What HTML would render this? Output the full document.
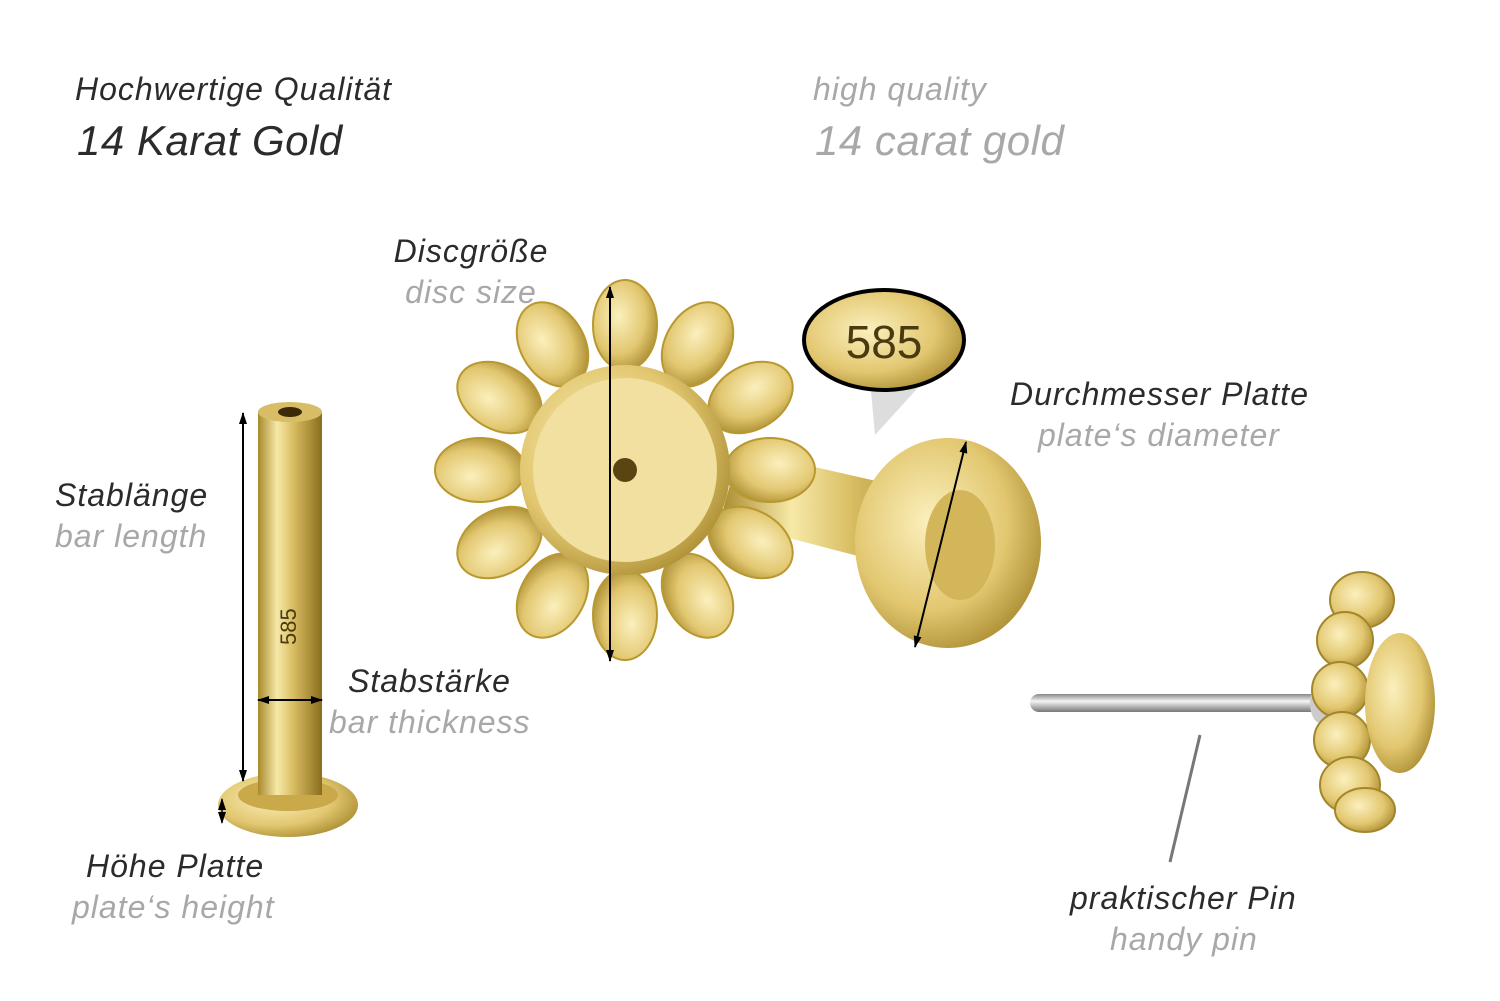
<!DOCTYPE html>
<html><head><meta charset="utf-8"><style>
html,body{margin:0;padding:0;background:#fff;}
svg{display:block}
text{font-family:"Liberation Sans",sans-serif;font-style:italic;}
.d{fill:#2b2b2b}.g{fill:#a8a8a8}
.l{letter-spacing:1px}
</style></head><body>
<svg width="1500" height="1001" viewBox="0 0 1500 1001" xmlns="http://www.w3.org/2000/svg">
<defs>
<linearGradient id="gb" x1="0" x2="1" y1="0" y2="0">
<stop offset="0" stop-color="#a88a2c"/><stop offset="0.3" stop-color="#f7e9a8"/><stop offset="0.55" stop-color="#d9bd62"/><stop offset="1" stop-color="#8a6d1c"/></linearGradient>
<radialGradient id="gr" cx="0.4" cy="0.4" r="0.7">
<stop offset="0" stop-color="#fbf0bd"/><stop offset="0.6" stop-color="#e2c770"/><stop offset="1" stop-color="#a3852a"/></radialGradient>
<linearGradient id="sv" x1="0" x2="0" y1="0" y2="1">
<stop offset="0" stop-color="#888"/><stop offset="0.4" stop-color="#f4f4f4"/><stop offset="1" stop-color="#777"/></linearGradient>
<marker id="ah" markerUnits="userSpaceOnUse" markerWidth="12" markerHeight="10" refX="11" refY="5" orient="auto-start-reverse"><path d="M0,1 L12,5 L0,9 z" fill="#000"/></marker>
</defs>

<text x="75" y="100" font-size="32" class="d l">Hochwertige Qualität</text>
<text x="77" y="155" font-size="42" class="d" style="letter-spacing:0.5px">14 Karat Gold</text>
<text x="813" y="100" font-size="32" class="g l">high quality</text>
<text x="815" y="155" font-size="42" class="g" style="letter-spacing:0.5px">14 carat gold</text>

<!-- bar -->
<ellipse cx="288" cy="805" rx="70" ry="32" fill="url(#gr)"/>
<ellipse cx="288" cy="795" rx="50" ry="16" fill="#c9a94a"/>
<rect x="258" y="412" width="64" height="383" fill="url(#gb)"/>
<ellipse cx="290" cy="412" rx="32" ry="10" fill="#d8bd66"/>
<ellipse cx="290" cy="412" rx="12" ry="5" fill="#3a2a08"/>
<text x="0" y="0" font-size="22" fill="#4a3a10" transform="translate(296,645) rotate(-90)" style="font-style:normal">585</text>

<!-- back plate + bar -->
<polygon points="740,450 960,500 950,580 720,520" fill="url(#gb)"/>
<ellipse cx="948" cy="543" rx="93" ry="105" fill="url(#gr)"/>
<ellipse cx="960" cy="545" rx="35" ry="55" fill="#d4b65a"/>

<!-- flower -->
<g transform="translate(625,470)">
<g fill="url(#gr)" stroke="#b8982f" stroke-width="2">
<ellipse cx="0" cy="-145" rx="32" ry="45"/>
<ellipse cx="0" cy="-145" rx="32" ry="45" transform="rotate(30)"/>
<ellipse cx="0" cy="-145" rx="32" ry="45" transform="rotate(60)"/>
<ellipse cx="0" cy="-145" rx="32" ry="45" transform="rotate(90)"/>
<ellipse cx="0" cy="-145" rx="32" ry="45" transform="rotate(120)"/>
<ellipse cx="0" cy="-145" rx="32" ry="45" transform="rotate(150)"/>
<ellipse cx="0" cy="-145" rx="32" ry="45" transform="rotate(180)"/>
<ellipse cx="0" cy="-145" rx="32" ry="45" transform="rotate(210)"/>
<ellipse cx="0" cy="-145" rx="32" ry="45" transform="rotate(240)"/>
<ellipse cx="0" cy="-145" rx="32" ry="45" transform="rotate(270)"/>
<ellipse cx="0" cy="-145" rx="32" ry="45" transform="rotate(300)"/>
<ellipse cx="0" cy="-145" rx="32" ry="45" transform="rotate(330)"/>
</g>
<circle cx="0" cy="0" r="105" fill="url(#gr)"/>
<circle cx="0" cy="0" r="92" fill="#f1e0a0"/>
<circle cx="0" cy="0" r="12" fill="#5a4512"/>
</g>

<!-- 585 oval -->
<polygon points="875,435 870,380 925,380" fill="#ddd"/>
<ellipse cx="884" cy="340" rx="80" ry="50" fill="url(#gr)" stroke="#000" stroke-width="4"/>
<text x="884" y="358" font-size="46" text-anchor="middle" fill="#4a3a10" style="font-style:normal">585</text>

<!-- pin -->
<rect x="1030" y="694" width="290" height="18" rx="9" fill="url(#sv)"/>
<ellipse cx="1320" cy="703" rx="10" ry="20" fill="#ccc"/>
<g fill="url(#gr)" stroke="#a3852a" stroke-width="2">
<ellipse cx="1362" cy="600" rx="32" ry="28"/>
<ellipse cx="1345" cy="640" rx="28" ry="28"/>
<ellipse cx="1340" cy="690" rx="28" ry="28"/>
<ellipse cx="1342" cy="740" rx="28" ry="28"/>
<ellipse cx="1350" cy="785" rx="30" ry="28"/>
<ellipse cx="1365" cy="810" rx="30" ry="22"/>
</g>
<ellipse cx="1400" cy="703" rx="35" ry="70" fill="url(#gr)"/>

<!-- arrows -->
<g stroke="#000" stroke-width="2" fill="none">
<line x1="610" y1="287" x2="610" y2="661" marker-start="url(#ah)" marker-end="url(#ah)"/>
<line x1="243" y1="413" x2="243" y2="781" marker-start="url(#ah)" marker-end="url(#ah)"/>
<line x1="258" y1="700" x2="322" y2="700" marker-start="url(#ah)" marker-end="url(#ah)"/>
<line x1="966" y1="442" x2="915" y2="647" marker-start="url(#ah)" marker-end="url(#ah)"/>
<line x1="222" y1="799" x2="222" y2="823" stroke-width="1.5" marker-start="url(#ah)" marker-end="url(#ah)"/>
</g>
<line x1="1200" y1="735" x2="1170" y2="862" stroke="#777" stroke-width="3"/>

<text x="471" y="262" font-size="32" class="d l" text-anchor="middle">Discgröße</text>
<text x="471" y="303" font-size="32" class="g l" text-anchor="middle">disc size</text>
<text x="1010" y="405" font-size="32" class="d l">Durchmesser Platte</text>
<text x="1038" y="446" font-size="32" class="g l">plate‘s diameter</text>
<text x="55" y="506" font-size="32" class="d l">Stablänge</text>
<text x="55" y="547" font-size="32" class="g l">bar length</text>
<text x="348" y="692" font-size="32" class="d l">Stabstärke</text>
<text x="329" y="733" font-size="32" class="g l">bar thickness</text>
<text x="86" y="877" font-size="32" class="d l">Höhe Platte</text>
<text x="72" y="918" font-size="32" class="g l">plate‘s height</text>
<text x="1070" y="909" font-size="32" class="d l">praktischer Pin</text>
<text x="1110" y="950" font-size="32" class="g l">handy pin</text>
</svg>
</body></html>
